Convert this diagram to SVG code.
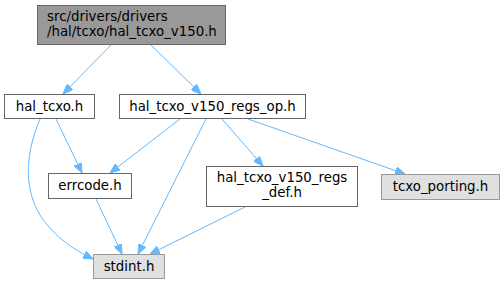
<svg xmlns="http://www.w3.org/2000/svg" width="502" height="285" viewBox="0 0 502 285">
<style>
.n rect{fill:#ffffff;stroke:#666666;stroke-width:1}
.n.root rect{fill:#999999;stroke:#666666}
.n.ext rect{fill:#e0e0e0;stroke:#999999}
text{font-family:"DejaVu Sans","Liberation Sans",sans-serif;font-size:13.33px;fill:#000000}
.e path{fill:none;stroke:#63b8ff;stroke-width:1}
</style>
<defs>
<marker id="ah" viewBox="0 0 10 8" refX="10" refY="4" markerWidth="10" markerHeight="8" markerUnits="userSpaceOnUse" orient="auto">
<path d="M0,0 L10,4 L0,8 Z" fill="#63b8ff" stroke="#63b8ff" stroke-width="1"/>
</marker>
</defs>
<g id="edges" class="e">
<path d="M111,45 L63,94" marker-end="url(#ah)"/>
<path d="M151,45 L201,94" marker-end="url(#ah)"/>
<path d="M56,119 L82,173" marker-end="url(#ah)"/>
<path d="M40,119 C27,150 22,185 40,215 C55,238 75,250 93,259" marker-end="url(#ah)"/>
<path d="M180,119 L110,173" marker-end="url(#ah)"/>
<path d="M206,119 L138,254" marker-end="url(#ah)"/>
<path d="M222,119 L263,166" marker-end="url(#ah)"/>
<path d="M248,119 L405,174" marker-end="url(#ah)"/>
<path d="M96,199 L122,254" marker-end="url(#ah)"/>
<path d="M245,207 L150,254" marker-end="url(#ah)"/>
</g>
<g id="node_root" class="n root">
<rect x="37.5" y="5.5" width="188" height="39"/>
<text x="47" y="21">src/drivers/drivers</text>
<text x="47" y="36">/hal/tcxo/hal_tcxo_v150.h</text>
</g>
<g id="node_hal_tcxo" class="n">
<rect x="4.5" y="94.5" width="90" height="24"/>
<text x="49.5" y="111" text-anchor="middle">hal_tcxo.h</text>
</g>
<g id="node_regs_op" class="n">
<rect x="119.5" y="94.5" width="186" height="24"/>
<text x="212.5" y="111" text-anchor="middle">hal_tcxo_v150_regs_op.h</text>
</g>
<g id="node_errcode" class="n">
<rect x="48.5" y="173.5" width="83" height="25"/>
<text x="90" y="190" text-anchor="middle">errcode.h</text>
</g>
<g id="node_regs_def" class="n">
<rect x="206.5" y="166.5" width="151" height="40"/>
<text x="282" y="182" text-anchor="middle">hal_tcxo_v150_regs</text>
<text x="282" y="197" text-anchor="middle">_def.h</text>
</g>
<g id="node_tcxo_porting" class="n ext">
<rect x="381.5" y="174.5" width="118" height="25"/>
<text x="440.5" y="191" text-anchor="middle">tcxo_porting.h</text>
</g>
<g id="node_stdint" class="n ext">
<rect x="93.5" y="254.5" width="71" height="24"/>
<text x="129" y="271" text-anchor="middle">stdint.h</text>
</g>
</svg>
